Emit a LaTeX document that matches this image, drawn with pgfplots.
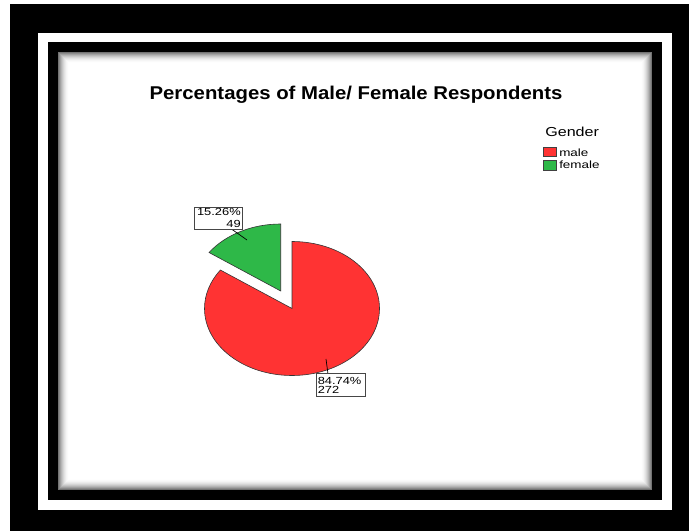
\documentclass[border=0pt]{standalone}
\usepackage{pgfplots}
\pgfplotsset{compat=1.18}
\usepackage{fontspec}
\setmainfont{Liberation Sans}
\definecolor{pieRed}{RGB}{255,51,51}
\definecolor{pieGreen}{RGB}{46,184,72}
\definecolor{boxGray}{RGB}{70,70,70}
% data: counts per gender
\def\countMale{272}
\def\countFemale{49}
\begin{document}
\begin{tikzpicture}[x=1pt,y=1pt]
% frames
\fill[white] (0,0) rectangle (689,531);
\fill[black] (10,0) rectangle (689,527);
\fill[white] (38,21) rectangle (672,498);
\fill[black] (48,31) rectangle (662,489);
\foreach \i in {0,...,10}{
  \pgfmathsetmacro\c{55*(1-\i/11)^2}
  \fill[black!\c!white] (58+\i,41+\i) rectangle (652-\i,479-\i);
}
\fill[white] (69,52) rectangle (641,468);
\begin{axis}[width=689pt,height=531pt,scale only axis,
  xmin=0,xmax=689,ymin=0,ymax=531,hide axis,clip=false]
\pgfmathsetmacro\tot{\countMale+\countFemale}
\pgfmathsetmacro\fracM{\countMale/\tot}
\pgfmathsetmacro\fracF{\countFemale/\tot}
\pgfmathsetmacro\endM{90-360*\fracM}
\pgfmathsetmacro\endF{90+360*\fracF}
% male slice
\draw[fill=pieRed,draw=black!80,line width=0.6pt] (axis cs:292,222.5) -- (axis cs:292,289.5)
  arc[start angle=90,end angle=\endM,x radius=87.5pt,y radius=67pt] -- cycle;
% female slice (exploded)
\draw[fill=pieGreen,draw=black!80,line width=0.6pt] (axis cs:280.7,240) -- (axis cs:280.7,307)
  arc[start angle=90,end angle=\endF,x radius=87.5pt,y radius=67pt] -- cycle;
% leader lines
\draw[black,line width=0.7pt] (axis cs:230,303) -- (axis cs:247,291);
\draw[black,line width=0.7pt] (axis cs:326,172) -- (axis cs:328,157);
% label boxes
\draw[fill=white,draw=boxGray,line width=0.8pt] (axis cs:194,301.7) rectangle (axis cs:242.3,323.7);
\node[anchor=base east,inner sep=0,xscale=1.25,font=\fontsize{10.3}{12}\selectfont] at (axis cs:241,315.3) {15.26\%};
\node[anchor=base east,inner sep=0,xscale=1.25,font=\fontsize{10.3}{12}\selectfont] at (axis cs:241,303.7) {49};
\draw[fill=white,draw=boxGray,line width=0.8pt] (axis cs:316.7,134.3) rectangle (axis cs:365.7,157.7);
\node[anchor=base west,inner sep=0,xscale=1.25,font=\fontsize{10.3}{12}\selectfont] at (axis cs:317.5,146.7) {84.74\%};
\node[anchor=base west,inner sep=0,xscale=1.25,font=\fontsize{10.3}{12}\selectfont] at (axis cs:317.5,137) {272};
% title
\node[anchor=base,inner sep=0,xscale=1.10,font=\fontsize{18.5}{20}\selectfont\bfseries] at (axis cs:356,431) {Percentages of Male/ Female Respondents};
% legend
\node[anchor=base west,inner sep=0,xscale=1.24,font=\fontsize{13}{15}\selectfont] at (axis cs:545,394.3) {Gender};
\draw[fill=pieRed,draw=black!75,line width=0.7pt] (axis cs:543.3,374.3) rectangle (axis cs:556,383.7);
\draw[fill=pieGreen,draw=black!75,line width=0.7pt] (axis cs:543.3,361) rectangle (axis cs:556,371);
\node[anchor=base west,inner sep=0,xscale=1.28,font=\fontsize{10.5}{12}\selectfont] at (axis cs:559,374.8) {male};
\node[anchor=base west,inner sep=0,xscale=1.28,font=\fontsize{10.5}{12}\selectfont] at (axis cs:559,362.2) {female};
\end{axis}
\end{tikzpicture}
\end{document}
